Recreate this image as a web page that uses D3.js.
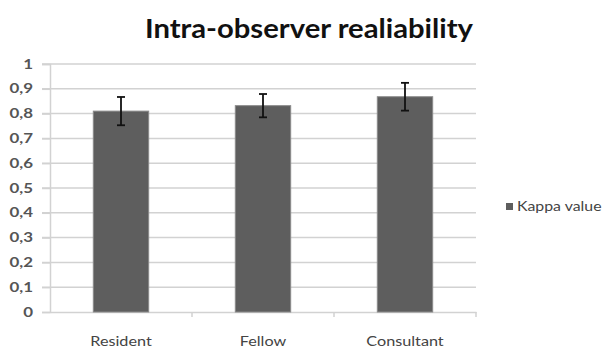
<!DOCTYPE html>
<html><head><meta charset="utf-8">
<script src="https://cdn.jsdelivr.net/npm/d3@7"></script>
<style>body{margin:0;background:#fff}svg{display:block}</style>
</head><body>
<svg id="c" width="604" height="348"></svg>
<script>
const categories = ["Resident", "Fellow", "Consultant"];
const kappa = [0.81, 0.832, 0.868];
const errors = [0.057, 0.047, 0.056];
const yTicks = [0, 0.1, 0.2, 0.3, 0.4, 0.5, 0.6, 0.7, 0.8, 0.9, 1];
const seriesName = "Kappa value";
const title = "Intra-observer realiability";

const svg = d3.select("#c");
const m = {l: 50, r: 128, t: 64, b: 36};
const W = 604, H = 348;
const FONT = "Lato, 'Open Sans', sans-serif";
const x = d3.scaleBand().domain(categories).range([m.l, W - m.r]).paddingInner(0.61).paddingOuter(0.305);
const xb = d3.scaleBand().domain(categories).range([m.l, W - m.r]);
const y = d3.scaleLinear().domain([0, 1]).range([H - m.b, m.t]);
const fmt = d => d === 0 ? "0" : d === 1 ? "1" : d3.format(".1f")(d).replace(".", ",");
function stretch(sel, k) {
  sel.each(function () {
    const w = this.getComputedTextLength();
    d3.select(this).attr("textLength", w * k).attr("lengthAdjust", "spacingAndGlyphs");
  });
}

// gridlines
svg.append("g").selectAll("line").data(yTicks.filter(d => d > 0)).join("line")
  .attr("x1", m.l - 8).attr("x2", W - m.r).attr("y1", d => y(d)).attr("y2", d => y(d))
  .attr("stroke", "#d2d2d2").attr("stroke-width", 1.5);

// y axis
const ya = svg.append("g").attr("transform", `translate(${m.l},0)`)
  .call(d3.axisLeft(y).tickValues(yTicks).tickFormat(fmt).tickSize(8).tickPadding(9));
ya.select(".domain").attr("stroke", "#d2d2d2").attr("stroke-width", 1.5);
ya.selectAll(".tick line").attr("stroke", "#d2d2d2").attr("stroke-width", 1.5);
ya.selectAll("text").attr("fill", "#555").attr("font-family", FONT).attr("font-weight", "bold").attr("font-size", 13);
stretch(ya.selectAll("text"), 1.3);

// x axis
const xa = svg.append("g").attr("transform", `translate(0,${y(0)})`)
  .call(d3.axisBottom(xb).tickSize(0).tickPadding(24));
xa.select(".domain").attr("stroke", "#d2d2d2").attr("stroke-width", 1.5);
xa.selectAll("text").attr("fill", "#444").attr("font-family", FONT).attr("font-size", 13.5);
stretch(xa.selectAll("text"), 1.2);
svg.append("g").selectAll("line").data(categories.slice(1).concat(["__end"])).join("line")
  .attr("x1", (d, i) => i < 2 ? xb(d) : W - m.r).attr("x2", (d, i) => i < 2 ? xb(d) : W - m.r)
  .attr("y1", y(0)).attr("y2", y(0) + 5).attr("stroke", "#d2d2d2").attr("stroke-width", 1.5);

// bars
svg.append("g").selectAll("rect").data(categories).join("rect")
  .attr("x", d => x(d)).attr("width", x.bandwidth())
  .attr("y", (d, i) => y(kappa[i])).attr("height", (d, i) => y(0) - y(kappa[i]))
  .attr("fill", "#5e5e5e").attr("stroke", "#8a8a8a").attr("stroke-width", 1);

// error bars
const eb = svg.append("g").attr("stroke", "#111").attr("stroke-width", 1.8);
categories.forEach((c, i) => {
  const cx = x(c) + x.bandwidth() / 2;
  const hi = y(kappa[i] + errors[i]), lo = y(kappa[i] - errors[i]);
  eb.append("line").attr("x1", cx).attr("x2", cx).attr("y1", hi).attr("y2", lo);
  eb.append("line").attr("x1", cx - 4).attr("x2", cx + 4).attr("y1", hi).attr("y2", hi);
  eb.append("line").attr("x1", cx - 4).attr("x2", cx + 4).attr("y1", lo).attr("y2", lo);
});

// title
svg.append("text").attr("x", 309).attr("y", 38).attr("text-anchor", "middle")
  .attr("font-family", FONT).attr("font-weight", "bold").attr("font-size", 27)
  .attr("fill", "#111").attr("textLength", 328).attr("lengthAdjust", "spacingAndGlyphs").text(title);

// legend
svg.append("rect").attr("x", 506).attr("y", 203).attr("width", 7).attr("height", 7).attr("fill", "#5e5e5e");
const lt = svg.append("text").attr("x", 517).attr("y", 211).attr("font-family", FONT)
  .attr("font-size", 13).attr("fill", "#444").text(seriesName);
stretch(lt, 1.22);
</script>
</body></html>
